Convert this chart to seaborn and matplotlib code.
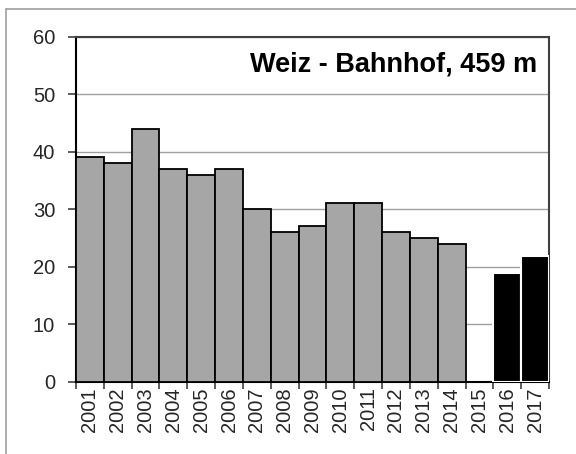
import matplotlib
matplotlib.use("Agg")
import matplotlib.pyplot as plt
from matplotlib.lines import Line2D
import numpy as np
import pandas as pd
import seaborn as sns

years = [str(y) for y in range(2001, 2018)]
values = [39, 38, 44, 37, 36, 37, 30, 26, 27, 31, 31, 26, 25, 24, np.nan, 18.8, 21.8]
groups = ["old"] * 14 + ["none", "new", "new"]
title = "Weiz - Bahnhof, 459 m"
yticks = [0, 10, 20, 30, 40, 50, 60]

df = pd.DataFrame({"year": years, "value": values, "group": groups})

sns.set_theme(style="white")
plt.rcParams["font.family"] = ["Liberation Sans", "DejaVu Sans"]

fig = plt.figure(figsize=(5.76, 4.54), dpi=100)
ax = fig.add_axes([76 / 576, 1 - 381.5 / 454, (549 - 76) / 576, (381.5 - 36.7) / 454])

pal = {"old": "#a6a6a6", "none": "#ffffff", "new": "#000000"}
sns.barplot(data=df, x="year", y="value", hue="group", palette=pal, order=years,
            dodge=False, width=1.0, legend=False, ax=ax, zorder=3)

for p in ax.patches:
    fc = p.get_facecolor()
    if fc[0] < 0.1:
        p.set_edgecolor("white")
        p.set_linewidth(1.5)
    else:
        p.set_edgecolor("black")
        p.set_linewidth(1.3)

ax.set_xlim(-0.5, len(years) - 0.5)
ax.set_ylim(0, 60)
ax.set_yticks(yticks)
ax.set_yticklabels([str(t) for t in yticks], fontsize=14.5)
ax.yaxis.grid(True, color="#a0a0a0", linewidth=1.0, zorder=0)
ax.set_axisbelow(True)
ax.set_xlabel("")
ax.set_ylabel("")

ax.set_xticks(range(len(years)))
ax.set_xticklabels(years, rotation=90, fontsize=14.5)
ax.set_xticks(np.arange(-0.5, len(years), 1.0), minor=True)
ax.tick_params(axis="x", which="major", length=0, pad=4)
ax.tick_params(axis="x", which="minor", length=5, width=1.2, color="#404040", direction="out", bottom=True)
ax.tick_params(axis="y", which="major", length=6, width=1.2, color="#404040", direction="out", left=True, pad=9)

for side in ["left", "bottom"]:
    ax.spines[side].set_color("black")
    ax.spines[side].set_linewidth(1.5)
for side in ["top", "right"]:
    ax.spines[side].set_color("#404040")
    ax.spines[side].set_linewidth(1.5)

ax.text(0.975, 0.92, title, transform=ax.transAxes, ha="right", va="center",
        fontsize=19.5, fontweight="bold", color="black", zorder=5)

fig.add_artist(Line2D([6 / 576, 1.0], [1 - 9 / 454, 1 - 9 / 454], transform=fig.transFigure,
                      color="#a0a0a0", linewidth=1.2))
fig.add_artist(Line2D([6 / 576, 6 / 576], [0.0, 1 - 9 / 454], transform=fig.transFigure,
                      color="#a0a0a0", linewidth=1.2))

fig.savefig("out.png", dpi=100)
